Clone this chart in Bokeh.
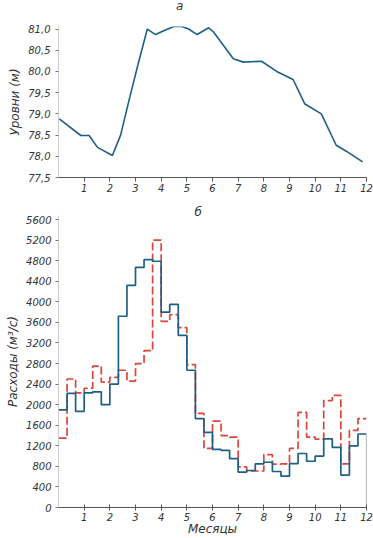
from bokeh.plotting import figure
from bokeh.layouts import column
from bokeh.models import FixedTicker, Range1d, Div
from bokeh.embed import file_html
from bokeh.resources import INLINE

FONT = "DejaVu Sans"
BLUE = "#1e5f87"
RED = "#e0443a"

# ---- data ----
months = list(range(1, 13))
month_labels = [str(m) for m in months]

level_months = [0.03, 0.87, 1.19, 1.52, 2.10, 2.42, 2.74, 3.07, 3.46, 3.78,
                4.10, 4.49, 4.81, 5.07, 5.40, 5.85, 6.04, 6.81, 7.20, 7.91,
                8.50, 9.14, 9.59, 10.24, 10.82, 11.21, 11.85]
levels = [78.88, 78.49, 78.49, 78.21, 78.02, 78.50, 79.30, 80.10, 81.00, 80.87,
          80.96, 81.06, 81.06, 81.00, 80.87, 81.03, 80.93, 80.30, 80.22, 80.24,
          80.00, 79.81, 79.24, 79.00, 78.26, 78.12, 77.87]
level_ticks = [77.5, 78.0, 78.5, 79.0, 79.5, 80.0, 80.5, 81.0]
level_tick_labels = ["77,5", "78,0", "78,5", "79,0", "79,5", "80,0", "80,5", "81,0"]

# dekadal discharges (36 dekads)
flow_blue = [1900, 2220, 1870, 2230, 2250, 2000, 2400, 3720, 4320, 4670, 4820, 4790,
             3800, 3950, 3350, 2670, 1730, 1460, 1130, 1110, 950, 690, 720, 850,
             880, 700, 610, 855, 1050, 900, 1000, 1335, 1170, 630, 1200, 1430]
flow_red = [1350, 2500, 2230, 2320, 2750, 2440, 2530, 2670, 2460, 2800, 3050, 5200,
            3620, 3750, 3500, 2780, 1830, 1150, 1680, 1400, 1370, 790, 710, 710,
            1030, 845, 850, 1150, 1850, 1370, 1330, 2080, 2180, 850, 1500, 1730]
flow_ticks = list(range(0, 5601, 400))
flow_tick_labels = [str(t) for t in flow_ticks]


def base_style(p):
    p.xgrid.visible = False
    p.ygrid.visible = False
    p.outline_line_color = None
    p.background_fill_color = "white"
    p.border_fill_color = "white"
    p.title.text_font = FONT
    p.title.text_font_style = "italic"
    p.title.text_font_size = "12px"
    p.title.text_color = "#333333"
    for ax in (p.xaxis, p.yaxis):
        ax.major_label_text_font = FONT
        ax.major_label_text_font_style = "italic"
        ax.major_label_text_font_size = "10px"
        ax.major_label_text_color = "#333333"
        ax.axis_label_text_font = FONT
        ax.axis_label_text_font_style = "italic"
        ax.axis_label_text_font_size = "12px"
        ax.axis_label_text_color = "#333333"
        ax.minor_tick_line_color = None
    p.xaxis.ticker = FixedTicker(ticks=months)
    p.xaxis.major_label_overrides = {m: l for m, l in zip(months, month_labels)}
    p.xaxis.axis_line_color = "#555555"
    p.xaxis.major_tick_line_color = "#555555"
    p.yaxis.axis_line_color = "#cfcfcf"
    p.yaxis.major_tick_line_color = "#777777"
    p.yaxis.major_tick_out = 3
    p.yaxis.major_tick_in = 0


# ---- top chart title ----
title_a = Div(text="а", width=373, height=12, margin=(0, 0, 0, 0),
              styles={"font-family": FONT, "font-style": "italic", "font-size": "12px",
                      "line-height": "12px", "color": "#333333", "text-indent": "176px"})

# ---- top chart (levels) ----
p1 = figure(width=373, height=185, x_range=Range1d(0, 12), y_range=Range1d(77.5, 81.06),
            output_backend="svg", toolbar_location=None,
            min_border_left=58, min_border_right=7, min_border_top=14, min_border_bottom=20)
base_style(p1)
p1.yaxis.ticker = FixedTicker(ticks=level_ticks)
p1.yaxis.major_label_overrides = {t: l for t, l in zip(level_ticks, level_tick_labels)}
p1.yaxis.major_label_standoff = 5
p1.yaxis.axis_label = "Уровни (м)"
p1.yaxis.axis_label_standoff = 3
p1.xaxis.major_tick_out = 4
p1.xaxis.major_tick_in = 0
p1.xaxis.major_label_standoff = 2
p1.line(level_months, levels, line_color=BLUE, line_width=1.6)

# ---- bottom chart (discharges) ----
p2 = figure(width=373, height=341, x_range=Range1d(0, 12), y_range=Range1d(0, 5680),
            title="б", output_backend="svg", toolbar_location=None,
            min_border_left=58, min_border_right=7, min_border_top=18, min_border_bottom=31)
base_style(p2)
p2.title.align = "left"
p2.title.offset = 136
p2.title.standoff = -6
p2.yaxis.ticker = FixedTicker(ticks=flow_ticks)
p2.yaxis.major_label_overrides = {t: l for t, l in zip(flow_ticks, flow_tick_labels)}
p2.yaxis.major_label_standoff = 4
p2.yaxis.axis_label = "Расходы (м³/с)"
p2.yaxis.axis_label_standoff = 3
p2.xaxis.major_tick_out = 3
p2.xaxis.major_tick_in = 3
p2.xaxis.major_label_standoff = 2
p2.xaxis.axis_label = "Месяцы"
p2.xaxis.axis_label_standoff = -2

n = len(flow_blue)
edges = [i * 12 / n for i in range(n + 1)]
p2.step(edges, flow_red + flow_red[-1:], mode="after", line_color=RED, line_width=1.7,
        line_dash="8 3")
p2.step(edges, flow_blue + flow_blue[-1:], mode="after", line_color=BLUE, line_width=1.7)
p2.segment(x0=[edges[-1]], y0=[0], x1=[edges[-1]], y1=[flow_blue[-1]],
           line_color="#888888", line_width=1.2)

layout = column(title_a, p1, p2, spacing=0)
with open("out.html", "w") as f:
    f.write(file_html(layout, INLINE))
